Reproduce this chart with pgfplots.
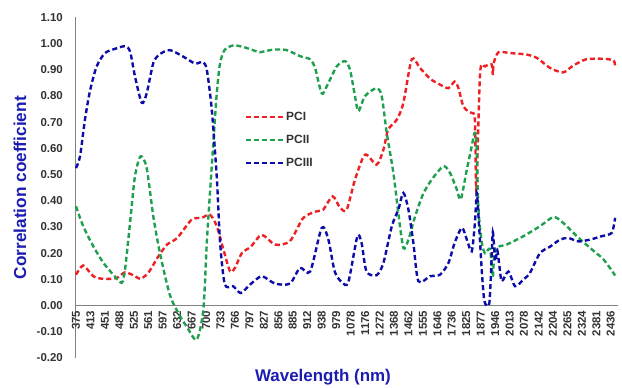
\documentclass[border=0pt]{standalone}
\usepackage{pgfplots}
\pgfplotsset{compat=1.18}
\usepackage{fontspec}
\setmainfont{Liberation Sans}
\definecolor{cred}{RGB}{238,32,36}
\definecolor{cgreen}{RGB}{30,160,78}
\definecolor{cblue}{RGB}{12,12,168}
\definecolor{lblue}{RGB}{28,28,176}
\definecolor{tgray}{RGB}{50,50,50}
\definecolor{agray}{RGB}{130,130,130}

\pgfplotstableread{
x y
0 0.118
0.5 0.153
1.2 0.112
1.9 0.102
2.8 0.105
3.4 0.127
4.1 0.112
4.45 0.102
5.0 0.125
5.7 0.188
6.3 0.233
7.0 0.258
8.0 0.328
8.7 0.335
9.27 0.347
9.74 0.303
10.2 0.214
10.66 0.131
11.0 0.144
11.47 0.2
12.1 0.225
12.85 0.27
13.77 0.233
14.8 0.246
15.73 0.335
16.66 0.36
17.1 0.366
17.76 0.417
18.27 0.373
18.73 0.366
19.3 0.48
20.0 0.576
20.8 0.538
21.27 0.595
21.6 0.672
22.2 0.71
22.65 0.774
23.23 0.94
23.8 0.907
24.5 0.866
25.2 0.843
25.77 0.83
26.2 0.855
26.46 0.83
26.8 0.76
27.15 0.742
27.38 0.735
27.6 0.71
27.7 0.443
27.96 0.888
28.3 0.913
28.77 0.92
28.84 0.88
28.9 0.925
29.23 0.967
30.0 0.964
31.2 0.958
31.9 0.945
32.8 0.907
33.7 0.89
34.4 0.916
35.3 0.94
36.5 0.942
37.2 0.935
37.3 0.91
}\pci

\pgfplotstableread{
x y
0 0.379
0.5 0.303
1.2 0.226
1.9 0.163
2.58 0.118
3.16 0.087
3.39 0.137
3.74 0.316
4.08 0.494
4.47 0.57
4.89 0.525
5.35 0.34
5.81 0.2
6.5 0.04
7.2 -0.04
7.66 -0.08
8.35 -0.13
8.81 -0.015
9.05 0.24
9.27 0.43
9.5 0.62
9.74 0.81
9.97 0.926
10.3 0.977
10.89 0.993
11.58 0.987
12.5 0.97
12.73 0.967
13.66 0.977
14.58 0.975
15.5 0.952
16.2 0.94
16.54 0.907
17.0 0.81
17.35 0.837
18.04 0.913
18.62 0.933
18.96 0.9
19.3 0.8
19.54 0.742
20.0 0.8
20.8 0.83
21.15 0.8
21.5 0.659
21.96 0.506
22.3 0.354
22.65 0.22
23.0 0.252
23.46 0.34
24.0 0.424
24.6 0.48
25.42 0.532
25.88 0.506
26.35 0.443
26.62 0.405
27.04 0.519
27.38 0.608
27.57 0.659
27.7 0.63
27.85 0.366
28.08 0.24
28.3 0.2
28.65 0.215
28.84 0.11
29.0 0.215
29.8 0.233
30.96 0.265
32.1 0.303
33.04 0.338
33.7 0.316
34.65 0.265
35.57 0.22
36.5 0.176
37.3 0.115
}\pcii

\pgfplotstableread{
x y
0 0.525
0.28 0.57
0.62 0.71
0.97 0.82
1.43 0.913
2.01 0.964
2.7 0.98
3.39 0.99
3.74 0.97
4.08 0.875
4.55 0.774
4.89 0.81
5.35 0.926
5.81 0.96
6.5 0.975
7.43 0.95
8.24 0.924
8.77 0.93
9.05 0.9
9.39 0.75
9.74 0.49
9.97 0.24
10.3 0.08
10.87 0.074
11.4 0.048
12.04 0.08
12.85 0.112
13.77 0.084
14.8 0.084
15.5 0.144
16.2 0.13
17.0 0.297
17.46 0.252
17.9 0.13
18.4 0.089
18.84 0.089
19.47 0.265
19.77 0.236
20.1 0.13
20.8 0.116
21.27 0.163
21.85 0.303
22.3 0.366
22.65 0.43
23.0 0.366
23.34 0.24
23.69 0.093
24.5 0.112
25.19 0.118
25.77 0.163
26.2 0.24
26.7 0.297
27.04 0.252
27.38 0.207
27.6 0.316
27.73 0.43
27.85 0.34
28.08 0.13
28.24 0.023
28.42 0.0
28.6 0.01
28.72 0.13
28.84 0.28
29.0 0.17
29.15 0.21
29.3 0.15
29.46 0.093
29.92 0.13
30.38 0.074
30.96 0.1
31.4 0.124
32.1 0.2
32.8 0.225
33.5 0.252
34.07 0.258
34.76 0.245
35.57 0.252
36.38 0.265
37.07 0.278
37.3 0.335
}\pciii

\begin{document}
\begin{tikzpicture}
\path[use as bounding box] (-76bp,-30bp) rectangle (546bp,358bp);
\begin{axis}[
  scale only axis,
  width=542bp, height=340.6bp,
  xmin=0, xmax=37.5,
  ymin=-0.2, ymax=1.1,
  axis x line*=middle,
  axis y line*=left,
  hide obscured x ticks=false,
  hide obscured y ticks=false,
  axis line style={agray, line width=1bp},
  major tick length=0pt,
  xtick={0,...,37},
  xticklabels={375,413,451,488,525,561,597,632,667,700,733,766,797,827,856,885,912,938,979,1078,1176,1272,1368,1462,1555,1646,1736,1825,1877,1946,2013,2078,2142,2204,2265,2324,2381,2436},
  ytick={-0.2,-0.1,0,0.1,0.2,0.3,0.4,0.5,0.6,0.7,0.8,0.9,1.0,1.1},
  /pgf/number format/assume math mode=true,
  yticklabel={\pgfmathprintnumber[fixed,fixed zerofill,precision=2]{\tick}},
  ticklabel style={font=\bfseries\fontsize{11.5}{13}\selectfont, text=tgray},
  xticklabel style={rotate=90, anchor=east, inner sep=0pt},
  yticklabel style={anchor=east, inner sep=0pt},
  xticklabel shift=5bp,
  yticklabel shift=13bp,
  every axis y label/.style={at={(axis description cs:-0.1033,0.5)}, rotate=90, anchor=center, font=\bfseries\fontsize{17.3}{19}\selectfont, text=lblue},
  every axis x label/.style={at={(axis description cs:0.4557,-0.0558)}, anchor=center, font=\bfseries\fontsize{17}{19}\selectfont, text=lblue},
  xlabel={Wavelength (nm)},
  ylabel={Correlation coefficient},
  clip=false,
  legend image code/.code={\draw[#1] (0bp,0bp) -- (37bp,0bp);},
  legend style={at={(axis description cs:0.311,0.728)}, anchor=north west, draw=none, fill=none,
    font=\bfseries\fontsize{12}{14}\selectfont, text=tgray, row sep=9bp, inner sep=0pt,
    nodes={inner sep=2bp}},
  legend cell align=left,
  every axis plot/.append style={line width=2.4bp, dash pattern=on 5bp off 3bp, smooth, tension=0.45},
]
\addplot[cred] table[x=x,y=y]{\pci};
\addlegendentry{PCI}
\addplot[cgreen] table[x=x,y=y]{\pcii};
\addlegendentry{PCII}
\addplot[cblue] table[x=x,y=y]{\pciii};
\addlegendentry{PCIII}
\end{axis}
\end{tikzpicture}
\end{document}
